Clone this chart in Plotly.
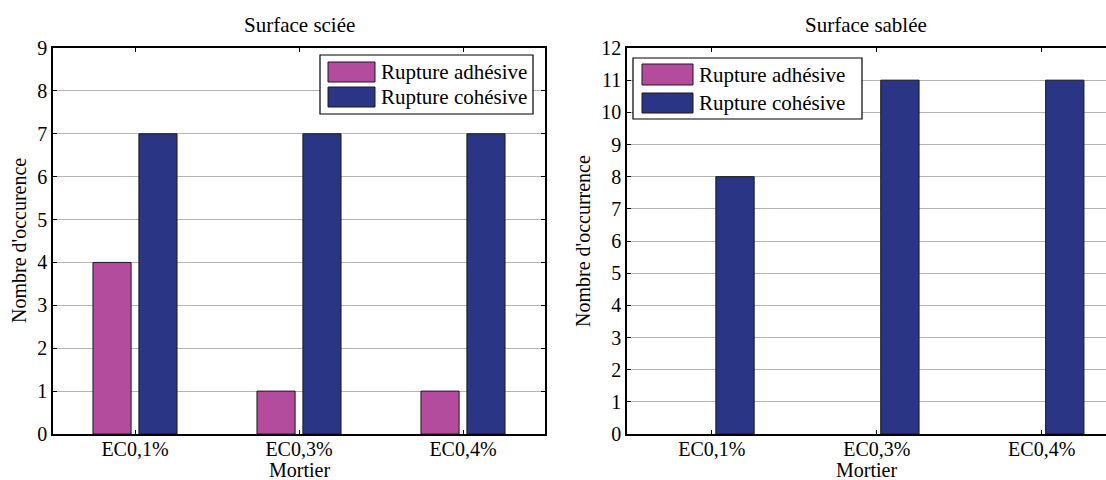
import plotly.graph_objects as go

mortiers = ["EC0,1%", "EC0,3%", "EC0,4%"]
sciee_adhesive = [4, 1, 1]
sciee_cohesive = [7, 7, 7]
sablee_adhesive = [0, 0, 0]
sablee_cohesive = [8, 11, 11]
legend_names = ["Rupture adhésive", "Rupture cohésive"]

pink = "#B44C9E"
blue = "#2A3585"
font = "Liberation Serif"
W, H = 1106, 480


def px(x):
    return x / W


def py(y):
    return 1 - y / H


fig = go.Figure()
for vals, col, xa, ya in [
    (sciee_adhesive, pink, "x", "y"),
    (sciee_cohesive, blue, "x", "y"),
    (sablee_adhesive, pink, "x2", "y2"),
    (sablee_cohesive, blue, "x2", "y2"),
]:
    fig.add_trace(go.Bar(
        x=list(range(len(mortiers))), y=vals, xaxis=xa, yaxis=ya,
        marker=dict(color=col,
                    line=dict(color="#1a1a1a", width=[1 if v else 0 for v in vals])),
        showlegend=False,
    ))

axis_common = dict(
    showline=True, linecolor="black", linewidth=1.5,
    ticks="inside", ticklen=4, tickcolor="black",
    tickfont=dict(family=font, size=20, color="black"),
    zeroline=False, automargin=False,
)

fig.update_layout(
    width=W, height=H,
    margin=dict(l=0, r=0, t=0, b=0),
    paper_bgcolor="white", plot_bgcolor="white",
    barmode="group", bargap=0.44, bargroupgap=0.17,
    font=dict(family=font, size=20, color="black"),
    xaxis=dict(axis_common, domain=[px(53), px(545)], anchor="y",
               range=[-0.5, 2.5], tickvals=[0, 1, 2], ticktext=mortiers,
               showgrid=False, mirror="ticks", ticklabelstandoff=-4),
    yaxis=dict(axis_common, domain=[py(434), py(48)], anchor="x",
               range=[0, 9], dtick=1, mirror="ticks",
               showgrid=True, gridcolor="#b4b4b4", gridwidth=1),
    xaxis2=dict(axis_common, domain=[px(627), 1.0], anchor="y2",
                range=[-0.515, 2.39], tickvals=[0, 1, 2], ticktext=mortiers,
                showgrid=False, mirror="ticks", ticklabelstandoff=-4),
    yaxis2=dict(axis_common, domain=[py(434), py(48)], anchor="x2",
                range=[0, 12], dtick=1, mirror=False,
                showgrid=True, gridcolor="#b4b4b4", gridwidth=1),
)

annotations = [
    dict(text="Surface sciée", x=px(299), y=py(25), size=21),
    dict(text="Surface sablée", x=px(866), y=py(25), size=21),
    dict(text="Mortier", x=px(299), y=py(470), size=20),
    dict(text="Mortier", x=px(866), y=py(470), size=20),
    dict(text="Nombre d'occurence", x=px(19), y=py(241), size=20, textangle=-90),
    dict(text="Nombre d'occurrence", x=px(583), y=py(241), size=20, textangle=-90),
]
for a in annotations:
    a.update(xref="paper", yref="paper", showarrow=False,
             xanchor="center", yanchor="middle",
             font=dict(family=font, size=a.pop("size"), color="black"))
fig.update_layout(annotations=annotations)

# legends drawn as boxes, like the reference
shapes = []
for box, sw_x, rows, tx in [
    ((320, 55, 533, 114), (328, 375), [(62, 82), (87, 107)], 379),
    ((633, 58, 862, 119), (642, 693), [(64, 85), (93, 113)], 697),
]:
    shapes.append(dict(type="rect", xref="paper", yref="paper",
                       x0=px(box[0]), x1=px(box[2]), y0=py(box[3]), y1=py(box[1]),
                       line=dict(color="black", width=1.2), fillcolor="white"))
    for (y0, y1), col, name in zip(rows, [pink, blue], legend_names):
        shapes.append(dict(type="rect", xref="paper", yref="paper",
                           x0=px(sw_x[0]), x1=px(sw_x[1]), y0=py(y1), y1=py(y0),
                           line=dict(color="#1a1a1a", width=1), fillcolor=col))
        fig.add_annotation(text=name, xref="paper", yref="paper",
                           x=px(tx), y=py((y0 + y1) / 2),
                           xanchor="left", yanchor="middle",
                           showarrow=False,
                           font=dict(family=font, size=21, color="black"))
fig.update_layout(shapes=shapes)

fig.write_html("out.html", config={"displayModeBar": False},
               post_script="document.body.style.margin='0';"
                           "document.body.style.overflow='hidden';")
